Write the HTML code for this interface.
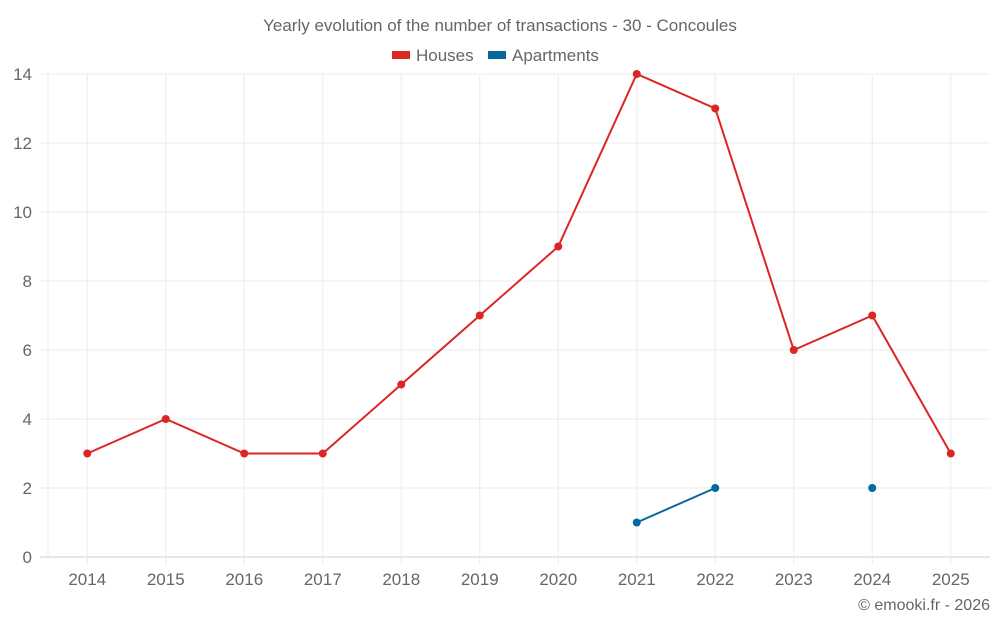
<!DOCTYPE html>
<html><head><meta charset="utf-8"><style>
body{margin:0;background:#fff;width:1000px;height:625px;overflow:hidden}
text{font-family:"Liberation Sans",sans-serif;fill:#666}
</style></head><body>
<svg id="c" width="1000" height="625">
<text x="500" y="31" text-anchor="middle" font-size="17">Yearly evolution of the number of transactions - 30 - Concoules</text>
<g>
<rect x="392" y="51" width="18" height="8" fill="#dc2626"/>
<text x="416" y="61" font-size="17">Houses</text>
<rect x="488" y="51" width="18" height="8" fill="#0569a0"/>
<text x="512" y="61" font-size="17">Apartments</text>
</g>
<g id="grid"></g><g id="marks"></g>
<text x="990" y="610" text-anchor="end" font-size="16">© emooki.fr - 2026</text>
</svg>
<script>
const years=["2014","2015","2016","2017","2018","2019","2020","2021","2022","2023","2024","2025"];
const houses=[3,4,3,3,5,7,9,14,13,6,7,3];
const apartments=[null,null,null,null,null,null,null,1,2,null,2,null];
const yTicks=[0,2,4,6,8,10,12,14];
const NS="http://www.w3.org/2000/svg";
const L=48,R=990,T=74,B=557,yMax=14;
const bw=(R-L)/years.length;
const x=i=>L+bw*(i+0.5), y=v=>B-(B-T)*v/yMax;
const g=document.getElementById('grid'),m=document.getElementById('marks');
function mk(p,tag,a){const e=document.createElementNS(NS,tag);for(const k in a)e.setAttribute(k,a[k]);p.appendChild(e);return e;}
yTicks.forEach(v=>{
 const l=mk(g,'line',{x1:40,x2:R,y1:y(v),y2:y(v),stroke:v===0?'#ccc':'#ebebeb'});
 
 
 const t=mk(g,'text',{x:32,y:y(v)+6,'text-anchor':'end','font-size':17});t.textContent=v;
 
 
});
mk(g,'line',{x1:L,x2:L,y1:T,y2:B,stroke:'#ebebeb'});
years.forEach((yr,i)=>{
 const l=mk(g,'line',{x1:x(i),x2:x(i),y1:T,y2:B+8,stroke:'#ebebeb'});
 
 
 const t=mk(g,'text',{x:x(i),y:585,'text-anchor':'middle','font-size':17});t.textContent=yr;
 
 
});
function series(vals,color,name){
 let segs=[],cur=[];
 vals.forEach((v,i)=>{if(v==null){if(cur.length)segs.push(cur);cur=[];}else cur.push([x(i),y(v)]);});
 if(cur.length)segs.push(cur);
 segs.forEach(s=>{if(s.length>1){const p=mk(m,'polyline',{points:s.map(q=>q.join(',')).join(' '),fill:'none',stroke:color,'stroke-width':2});
  
  }});
 vals.forEach((v,i)=>{if(v==null)return;const c=mk(m,'circle',{cx:x(i),cy:y(v),r:4,fill:color});
  
  });
}
series(houses,'#dc2626','houses');
series(apartments,'#0569a0','apartments');
</script>
</body></html>
